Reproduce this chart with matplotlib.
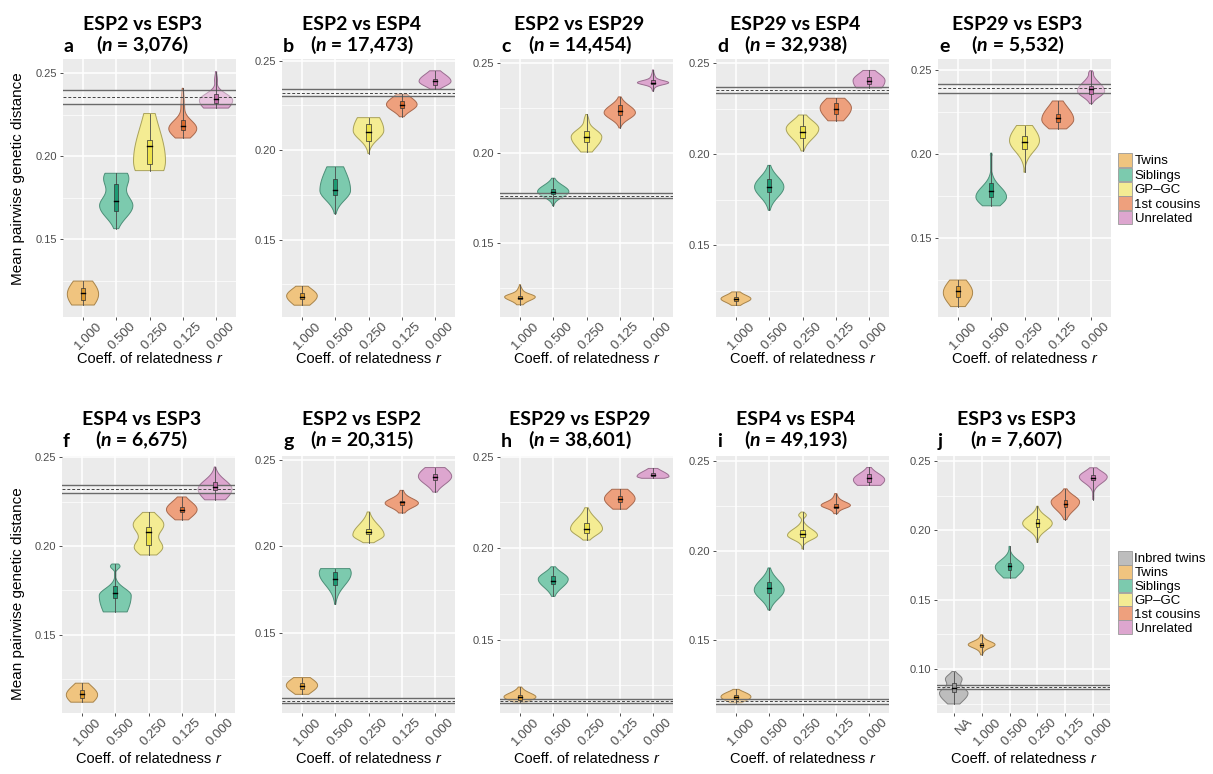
import numpy as np
import matplotlib
matplotlib.use("Agg")
import matplotlib.pyplot as plt
from matplotlib.patches import Rectangle

W, H = 1213, 774
fig = plt.figure(figsize=(W / 100, H / 100), dpi=100)

SANS = ["Liberation Sans", "DejaVu Sans"]
TITLE_FONT = ["Lato", "DejaVu Sans"]

# ---------------------------------------------------------------- data
groups5 = ["Twins", "Siblings", "GP\u2013GC", "1st cousins", "Unrelated"]
groups6 = ["Inbred twins"] + groups5
r_labels5 = ["1.000", "0.500", "0.250", "0.125", "0.000"]
r_labels6 = ["NA"] + r_labels5

fill_colors = {"Inbred twins": "#BDBDBD", "Twins": "#F0C47F", "Siblings": "#7CCAAE",
               "GP\u2013GC": "#F4EC93", "1st cousins": "#EEA07D", "Unrelated": "#DDA6CF"}
edge_colors = {"Inbred twins": "#7F7F7F", "Twins": "#A8844A", "Siblings": "#4C8F78",
               "GP\u2013GC": "#A9A25A", "1st cousins": "#A8694E", "Unrelated": "#9A6E90"}
box_colors = {"Inbred twins": "#9E9E9E", "Twins": "#DC9A2E", "Siblings": "#1E9B74",
              "GP\u2013GC": "#EDE24A", "1st cousins": "#DB6A2C", "Unrelated": "#C56FAB"}

titles = ["ESP2 vs ESP3", "ESP2 vs ESP4", "ESP2 vs ESP29", "ESP29 vs ESP4", "ESP29 vs ESP3",
          "ESP4 vs ESP3", "ESP2 vs ESP2", "ESP29 vs ESP29", "ESP4 vs ESP4", "ESP3 vs ESP3"]
n_pairs = ["3,076", "17,473", "14,454", "32,938", "5,532",
           "6,675", "20,315", "38,601", "49,193", "7,607"]
tags = ["a", "b", "c", "d", "e", "f", "g", "h", "i", "j"]

# lower bound, mean, upper bound of the unrelated-pair reference band
ref_bands = [(0.2316, 0.2356, 0.2396), (0.2303, 0.2322, 0.2341), (0.1748, 0.1763, 0.1778),
             (0.2338, 0.2354, 0.2371), (0.2362, 0.2391, 0.2420), (0.2300, 0.2322, 0.2345),
             (0.1091, 0.1105, 0.1120), (0.1155, 0.1166, 0.1177), (0.1145, 0.1158, 0.1171),
             (0.0858, 0.0872, 0.0887)]

y_limits = [(0.1033, 0.2584), (0.1067, 0.2510), (0.1087, 0.2524), (0.1105, 0.2524),
            (0.1030, 0.2566), (0.1058, 0.2507), (0.1035, 0.2523), (0.1098, 0.2504),
            (0.1093, 0.2528), (0.0682, 0.2536)]

# violin summaries: (min, max, q1, median, q3, half width, density bumps)
# each bump is (centre, spread below, spread above, weight)
esp2_esp3 = [
    (0.1105, 0.1249, 0.1135, 0.1175, 0.1205, 0.47, [(0.117, 0.008, 0.008, 1)]),
    (0.1564, 0.1897, 0.167, 0.173, 0.183, 0.50, [(0.170, 0.007, 0.006, 1), (0.187, 0.006, 0.006, 0.75)]),
    (0.1913, 0.2256, 0.195, 0.206, 0.2095, 0.48, [(0.197, 0.012, 0.02, 1)]),
    (0.2109, 0.2408, 0.2155, 0.218, 0.222, 0.42, [(0.2165, 0.005, 0.005, 1), (0.232, 0.004, 0.006, 0.12)]),
    (0.2289, 0.2508, 0.232, 0.2345, 0.2375, 0.50, [(0.2335, 0.006, 0.004, 1), (0.246, 0.002, 0.003, 0.08)]),
]
esp2_esp4 = [
    (0.1133, 0.1239, 0.1165, 0.118, 0.120, 0.46, [(0.1185, 0.0045, 0.004, 1)]),
    (0.1644, 0.1907, 0.175, 0.178, 0.184, 0.46, [(0.1775, 0.0055, 0.012, 1)]),
    (0.1981, 0.2182, 0.205, 0.210, 0.2145, 0.46, [(0.211, 0.005, 0.009, 1)]),
    (0.2187, 0.2313, 0.2235, 0.2255, 0.2275, 0.46, [(0.2255, 0.0035, 0.004, 1)]),
    (0.2341, 0.2444, 0.2365, 0.2385, 0.240, 0.48, [(0.2385, 0.0028, 0.004, 1)]),
]
esp2_esp29 = [
    (0.1155, 0.1267, 0.1185, 0.1195, 0.1205, 0.46,
     [(0.1200, 0.0018, 0.0015, 1), (0.1185, 0.003, 0.003, 0.4), (0.124, 0.0015, 0.0015, 0.12)]),
    (0.1706, 0.1860, 0.177, 0.1785, 0.180, 0.47, [(0.1785, 0.003, 0.0035, 1)]),
    (0.2006, 0.2215, 0.206, 0.209, 0.2125, 0.46, [(0.209, 0.006, 0.004, 1), (0.219, 0.002, 0.002, 0.1)]),
    (0.2140, 0.2313, 0.221, 0.2235, 0.227, 0.47, [(0.2225, 0.0035, 0.004, 1)]),
    (0.2345, 0.2463, 0.2385, 0.239, 0.2405, 0.47, [(0.2392, 0.0011, 0.0011, 1), (0.240, 0.003, 0.003, 0.25)]),
]
esp29_esp4 = [
    (0.1169, 0.1243, 0.1195, 0.1205, 0.1215, 0.45, [(0.1205, 0.0018, 0.0018, 1), (0.1205, 0.004, 0.004, 0.5)]),
    (0.1692, 0.1939, 0.179, 0.182, 0.1865, 0.44, [(0.182, 0.0055, 0.0055, 1)]),
    (0.2018, 0.2216, 0.209, 0.2125, 0.2155, 0.49, [(0.214, 0.0055, 0.0045, 1)]),
    (0.2184, 0.2308, 0.222, 0.225, 0.228, 0.47, [(0.2255, 0.006, 0.005, 1)]),
    (0.2364, 0.2461, 0.2385, 0.2405, 0.2425, 0.48, [(0.2405, 0.006, 0.004, 1)]),
]
esp29_esp3 = [
    (0.1092, 0.1250, 0.115, 0.1185, 0.1215, 0.44, [(0.1175, 0.007, 0.007, 1)]),
    (0.1692, 0.2006, 0.1745, 0.178, 0.183, 0.46, [(0.1745, 0.005, 0.006, 1), (0.1995, 0.0008, 0.0008, 0.06)]),
    (0.1892, 0.2170, 0.203, 0.207, 0.211, 0.45, [(0.208, 0.0065, 0.008, 1)]),
    (0.2150, 0.2316, 0.219, 0.2215, 0.224, 0.48, [(0.2205, 0.005, 0.0075, 1)]),
    (0.2300, 0.2496, 0.2355, 0.2385, 0.2405, 0.41, [(0.2375, 0.0035, 0.005, 1), (0.2485, 0.001, 0.001, 0.08)]),
]
esp4_esp3 = [
    (0.1119, 0.1226, 0.1145, 0.1163, 0.1185, 0.47, [(0.116, 0.005, 0.005, 1)]),
    (0.1628, 0.1898, 0.1705, 0.1735, 0.1775, 0.48, [(0.172, 0.012, 0.004, 1), (0.1885, 0.0015, 0.0015, 0.3)]),
    (0.1949, 0.2189, 0.2005, 0.208, 0.2105, 0.46, [(0.212, 0.005, 0.005, 1), (0.199, 0.004, 0.004, 0.9)]),
    (0.2147, 0.2276, 0.219, 0.2205, 0.222, 0.46, [(0.2205, 0.0045, 0.0045, 1)]),
    (0.2260, 0.2445, 0.2315, 0.2335, 0.236, 0.51, [(0.232, 0.006, 0.005, 1)]),
]
esp2_esp2 = [
    (0.1143, 0.1240, 0.1175, 0.119, 0.121, 0.47, [(0.1195, 0.004, 0.004, 1)]),
    (0.1664, 0.1871, 0.1775, 0.181, 0.185, 0.48, [(0.1845, 0.007, 0.006, 1)]),
    (0.2021, 0.2199, 0.207, 0.2085, 0.210, 0.47, [(0.2065, 0.003, 0.006, 1)]),
    (0.2193, 0.2324, 0.224, 0.2255, 0.2265, 0.50, [(0.225, 0.0025, 0.0025, 1), (0.225, 0.006, 0.006, 0.25)]),
    (0.2314, 0.2456, 0.2385, 0.240, 0.242, 0.50, [(0.2405, 0.0045, 0.005, 1)]),
]
esp29_esp29 = [
    (0.1158, 0.1240, 0.117, 0.1183, 0.1195, 0.48, [(0.1183, 0.002, 0.002, 1), (0.1205, 0.0025, 0.0025, 0.3)]),
    (0.1736, 0.1898, 0.1805, 0.182, 0.1845, 0.45, [(0.183, 0.0045, 0.0035, 1)]),
    (0.2044, 0.2221, 0.2085, 0.2105, 0.2135, 0.48, [(0.2105, 0.0035, 0.0055, 1)]),
    (0.2213, 0.2322, 0.2255, 0.227, 0.2285, 0.46, [(0.227, 0.0045, 0.0045, 1)]),
    (0.2382, 0.2436, 0.2392, 0.240, 0.241, 0.48, [(0.2392, 0.0012, 0.0028, 1)]),
]
esp4_esp4 = [
    (0.1150, 0.1225, 0.1172, 0.118, 0.1192, 0.45, [(0.118, 0.0022, 0.0022, 1), (0.1205, 0.0015, 0.0015, 0.2)]),
    (0.1668, 0.1903, 0.1765, 0.179, 0.1825, 0.45, [(0.178, 0.005, 0.0055, 1)]),
    (0.2009, 0.2215, 0.2075, 0.209, 0.2115, 0.45, [(0.2085, 0.0025, 0.0035, 1), (0.2198, 0.0012, 0.0012, 0.25)]),
    (0.2206, 0.2318, 0.2235, 0.2245, 0.226, 0.44, [(0.2252, 0.0015, 0.0018, 1), (0.2255, 0.004, 0.004, 0.35)]),
    (0.2364, 0.2464, 0.2385, 0.2405, 0.2425, 0.47, [(0.2395, 0.004, 0.0035, 1)]),
]
esp3_esp3 = [
    (0.0747, 0.0981, 0.0835, 0.086, 0.0895, 0.51, [(0.0825, 0.006, 0.004, 1), (0.093, 0.003, 0.003, 0.55)]),
    (0.1101, 0.1246, 0.116, 0.1175, 0.119, 0.48, [(0.1175, 0.0022, 0.0022, 1), (0.1175, 0.005, 0.005, 0.25)]),
    (0.1656, 0.1884, 0.1715, 0.174, 0.1765, 0.51, [(0.1735, 0.006, 0.005, 1)]),
    (0.1913, 0.2174, 0.2025, 0.205, 0.2085, 0.53, [(0.205, 0.005, 0.005, 1)]),
    (0.2077, 0.2299, 0.2165, 0.219, 0.2215, 0.51, [(0.2205, 0.006, 0.0045, 1)]),
    (0.2222, 0.2451, 0.2365, 0.2375, 0.240, 0.50, [(0.2385, 0.0045, 0.004, 1)]),
]
panels = [esp2_esp3, esp2_esp4, esp2_esp29, esp29_esp4, esp29_esp3,
          esp4_esp3, esp2_esp2, esp29_esp29, esp4_esp4, esp3_esp3]

# ---------------------------------------------------------------- layout (pixels)
AX_W = 173
ROW_TOP = [59, 456]
ROW_BOTTOM = [317, 713]
COL_LEFT = [[63, 282, 500, 716, 938], [62, 282, 500, 716, 937]]
TITLE1_BASE = [30, 425]
TITLE2_BASE = [51, 446]
XLABEL_BASE = [363, 763]
YLABEL_CENTER = [179, 594]

BG = "#EBEBEB"
TICK_TXT = "#4D4D4D"
PX = 0.72  # points per pixel at 100 dpi


def fx(px):
    return px / W


def fy(py):
    return 1 - py / H


renderer = fig.canvas.get_renderer()


def rich_text(xc, ybase, parts, size, family, weight="normal", color="black"):
    """Draw a run of differently styled strings centred on xc, sharing one baseline."""
    items = []
    for s, style in parts:
        t = fig.text(0, 0, s, fontsize=size, family=family, fontweight=weight,
                     style=style, ha="left", va="baseline", color=color)
        items.append(t)
    widths = [t.get_window_extent(renderer).width for t in items]
    x = xc - sum(widths) / 2
    for t, w in zip(items, widths):
        t.set_position((fx(x), fy(ybase)))
        x += w


def draw_violin(ax, x, spec, group):
    lo, hi, q1, med, q3, hw, bumps = spec
    y = np.linspace(lo, hi, 400)
    dens = np.zeros_like(y)
    for c, s_lo, s_hi, a in bumps:
        s = np.where(y < c, s_lo, s_hi)
        dens += a * np.exp(-0.5 * ((y - c) / s) ** 2)
    half = np.maximum(dens / dens.max(), 0.04) * hw
    xs = np.concatenate([x - half, (x + half)[::-1]])
    ys = np.concatenate([y, y[::-1]])
    ax.fill(xs, ys, facecolor=fill_colors[group], edgecolor=edge_colors[group],
            lw=0.7, zorder=3)
    ax.plot([x, x], [lo, hi], color="#4a4a4a", lw=0.6, zorder=5)
    bw = 0.065
    ax.add_patch(Rectangle((x - bw, q1), 2 * bw, q3 - q1, facecolor=box_colors[group],
                           edgecolor="#333333", lw=0.5, zorder=6))
    ax.plot([x - bw, x + bw], [med, med], color="black", lw=1.0, zorder=7)


for k in range(10):
    row, col = divmod(k, 5)
    left = COL_LEFT[row][col]
    top, bottom = ROW_TOP[row], ROW_BOTTOM[row]
    ax = fig.add_axes([fx(left), fy(bottom), AX_W / W, (bottom - top) / H])
    ax.set_facecolor(BG)
    for sp in ax.spines.values():
        sp.set_visible(False)

    violins = panels[k]
    grp = groups6 if len(violins) == 6 else groups5
    labels = r_labels6 if len(violins) == 6 else r_labels5
    xs = np.arange(1, len(violins) + 1)
    y0, y1 = y_limits[k]

    yt = [0.10, 0.15, 0.20, 0.25] if k == 9 else [0.15, 0.20, 0.25]
    minor = [v for v in (0.075, 0.125, 0.175, 0.225) if y0 < v < y1]
    ax.set_yticks(yt)
    ax.set_yticks(minor, minor=True)
    ax.set_yticklabels([f"{v:.2f}" for v in yt], fontsize=8, family=SANS, color=TICK_TXT)
    ax.set_xticks(xs)
    ax.set_xticklabels([])
    for x, lab in zip(xs, labels):
        ax.annotate(lab, xy=(x, 0), xycoords=ax.get_xaxis_transform(),
                    xytext=(13 * PX, -3 * PX), textcoords="offset points",
                    rotation=45, ha="right", va="top", rotation_mode="anchor",
                    fontsize=9.5, family=SANS, color=TICK_TXT, annotation_clip=False)
    ax.tick_params(axis="both", which="major", length=2.5, width=0.6, color="#333333", pad=2)
    ax.tick_params(axis="y", which="minor", length=0)
    ax.grid(True, which="major", color="white", lw=1.1, zorder=0)
    ax.grid(True, which="minor", axis="y", color="white", lw=0.5, zorder=0)
    ax.set_axisbelow(True)

    for x, spec, g in zip(xs, violins, grp):
        draw_violin(ax, x, spec, g)

    lo_b, mid_b, hi_b = ref_bands[k]
    ax.axhspan(lo_b, hi_b, color="white", alpha=0.35, lw=0, zorder=4)
    ax.axhline(lo_b, color="#6A6A6A", lw=1.0, zorder=4.5)
    ax.axhline(hi_b, color="#6A6A6A", lw=1.0, zorder=4.5)
    ax.axhline(mid_b, color="#444444", lw=0.7, ls=(0, (3, 2)), zorder=4.5)

    ax.set_xlim(0.4, len(violins) + 0.6)
    ax.set_ylim(y0, y1)

    # titles, tags, axis titles
    xc = left + AX_W / 2 - 7
    fig.text(fx(xc), fy(TITLE1_BASE[row]), titles[k], fontsize=14, family=TITLE_FONT,
             fontweight="bold", ha="center", va="baseline")
    rich_text(xc, TITLE2_BASE[row], [("(", "normal"), ("n", "italic"),
                                      (" = " + n_pairs[k] + ")", "normal")],
              14, TITLE_FONT, weight="bold")
    fig.text(fx(left + 1), fy(TITLE2_BASE[row] + 1), tags[k], fontsize=14, family=TITLE_FONT,
             fontweight="bold", ha="left", va="baseline")
    rich_text(left + AX_W / 2, XLABEL_BASE[row],
              [("Coeff. of relatedness ", "normal"), ("r", "italic")], 10.5, SANS)
    if col == 0:
        fig.text(fx(18), fy(YLABEL_CENTER[row]), "Mean pairwise genetic distance",
                 fontsize=11, family=SANS, rotation=90, ha="center", va="center")


# legends
def legend(entries, first_center, x_key=1118, step=14.0, key=13.5):
    for i, g in enumerate(entries):
        yc = first_center + i * step
        fig.patches.append(Rectangle((fx(x_key), fy(yc + key / 2)), key / W, key / H,
                                     facecolor=fill_colors[g], edgecolor="#9A9A9A", lw=0.6,
                                     transform=fig.transFigure, figure=fig))
        fig.text(fx(x_key + key + 3), fy(yc), g, fontsize=9.5, family=SANS,
                 ha="left", va="center_baseline")


legend(groups5, 160, step=14.4)
legend(groups6, 558, step=13.8)

fig.savefig("out.png", dpi=100, facecolor="white")
